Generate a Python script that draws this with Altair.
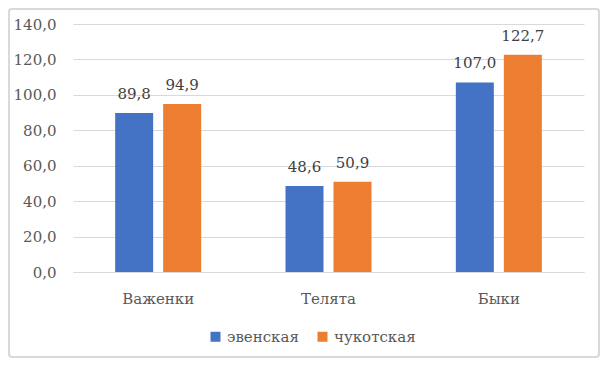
import altair as alt
import pandas as pd

categories = ["Важенки", "Телята", "Быки"]
series = ["эвенская", "чукотская"]
evenk = [89.8, 48.6, 107.0]
chukot = [94.9, 50.9, 122.7]
colors = ["#4472C4", "#ED7D31"]
y_ticks = [0, 20, 40, 60, 80, 100, 120, 140]

rows = []
for c, a, b in zip(categories, evenk, chukot):
    rows.append({"cat": c, "series": series[0], "value": a})
    rows.append({"cat": c, "series": series[1], "value": b})
df = pd.DataFrame(rows)
df["label"] = df["value"].map(lambda v: f"{v:.1f}".replace(".", ","))

FONT = "DejaVu Serif"
FS = 15
W, H = 511, 248

x_enc = alt.X("cat:N", sort=categories,
              scale=alt.Scale(paddingInner=0, paddingOuter=0),
              axis=alt.Axis(title=None, labelAngle=0, ticks=False, domainColor="#d9d9d9",
                            domainWidth=1, labelPadding=19, labelFontSize=FS,
                            labelFont=FONT, labelColor="#595959"))
xo_enc = alt.XOffset("series:N", sort=series,
                     scale=alt.Scale(paddingInner=0.2083, paddingOuter=0.8785))
y_enc = alt.Y("value:Q",
              scale=alt.Scale(domain=[0, 140], nice=False),
              axis=alt.Axis(title=None, values=y_ticks, domain=False, ticks=False,
                            gridColor="#d9d9d9", gridWidth=1, labelPadding=17,
                            labelFontSize=FS, labelFont=FONT, labelColor="#595959",
                            labelExpr="replace(format(datum.value, '.1f'), '.', ',')"))

base = alt.Chart(df).encode(x=x_enc, xOffset=xo_enc, y=y_enc)

bars = base.mark_bar().encode(
    color=alt.Color("series:N", sort=series,
                    scale=alt.Scale(domain=series, range=colors),
                    legend=alt.Legend(title=None, orient="none", legendX=135, legendY=305,
                                      direction="horizontal", symbolType="square",
                                      symbolSize=100, symbolStrokeWidth=0,
                                      labelFontSize=FS, labelFont=FONT,
                                      labelColor="#595959", columnPadding=16,
                                      labelOffset=4, padding=0))
)

text = base.mark_text(baseline="alphabetic", dy=-14, font=FONT, fontSize=FS,
                      color="#404040").encode(text="label:N")

frame = alt.Chart(pd.DataFrame({"a": [0]})).mark_rect(
    fillOpacity=0, stroke="#d9d9d9", strokeWidth=2, cornerRadius=3
).encode(x=alt.value(-64), x2=alt.value(W + 15), y=alt.value(-15), y2=alt.value(H + 85))

chart = alt.layer(frame, bars, text).properties(
    width=W, height=H,
    padding={"left": 65, "top": 16, "right": 16, "bottom": 86},
    autosize="none",
    background="white",
).configure_view(stroke=None)

chart.save("out.html", embed_options={"renderer": "svg", "actions": False})
